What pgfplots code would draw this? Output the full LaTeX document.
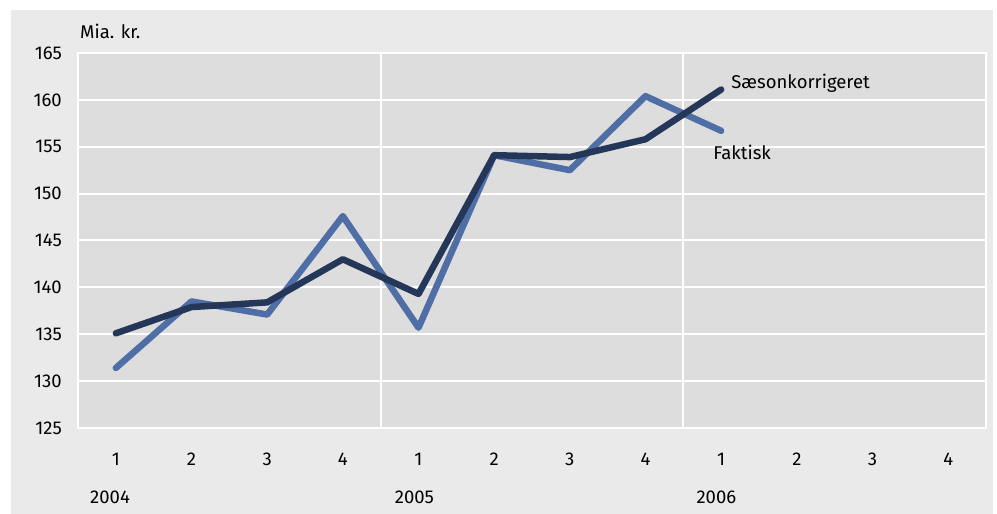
\documentclass[border=0pt]{standalone}
\usepackage{pgfplots}
\pgfplotsset{compat=1.18}
\usepackage{fontspec}
\setmainfont{Fira Sans}
\definecolor{outerbg}{HTML}{EAEAEA}
\definecolor{plotbg}{HTML}{DDDDDD}
\definecolor{faktisk}{HTML}{4F6EA6}
\definecolor{saeson}{HTML}{253759}
\begin{document}
\fontsize{18.5}{22}\selectfont
\begin{tikzpicture}[x=1pt,y=1pt]
\fill[white] (0,0) rectangle (997,514);
\fill[outerbg] (11,0) rectangle (993,504);
\begin{axis}[
  at={(78pt,86pt)}, anchor=south west,
  scale only axis, width=908pt, height=375pt,
  xmin=-0.5, xmax=11.5, ymin=125, ymax=165,
  xtick={0,...,11},
  xticklabels={1,2,3,4,1,2,3,4,1,2,3,4},
  ytick={125,130,...,165},
  axis background/.style={fill=plotbg},
  axis line style={white, line width=2pt},
  major tick length=0pt,
  ymajorgrids, grid style={white, line width=2pt},
  tick label style={font=\fontsize{18.5}{22}\selectfont, text=black},
  yticklabel style={inner sep=0pt, xshift=-16pt},
  xticklabel style={inner sep=0pt, yshift=-25pt},
  /pgf/number format/assume math mode=true,
  clip=false,
]
\draw[white, line width=2pt] (axis cs:3.5,125) -- (axis cs:3.5,165);
\draw[white, line width=2pt] (axis cs:7.5,125) -- (axis cs:7.5,165);
\addplot[faktisk, line width=6.5pt, line cap=round, line join=round] coordinates {
(0,131.4) (1,138.5) (2,137.1) (3,147.6) (4,135.7) (5,154.1) (6,152.5) (7,160.4) (8,156.7)};
\addplot[saeson, line width=6.5pt, line cap=round, line join=round] coordinates {
(0,135.1) (1,137.9) (2,138.4) (3,143.0) (4,139.3) (5,154.1) (6,153.9) (7,155.8) (8,161.1)};
\node[anchor=west, inner sep=0pt] at (axis cs:8,161.1) [xshift=10pt, yshift=6pt] {Sæsonkorrigeret};
\node[anchor=west, inner sep=0pt] at (axis cs:8,156.7) [xshift=-8pt, yshift=-22pt] {Faktisk};
\node[anchor=west, inner sep=0pt] at (rel axis cs:0,1) [xshift=2pt, yshift=22pt] {Mia. kr.};
\node[anchor=west, inner sep=0pt] at (axis cs:-0.5,125) [xshift=12pt, yshift=-69pt] {2004};
\node[anchor=west, inner sep=0pt] at (axis cs:3.5,125) [xshift=14pt, yshift=-69pt] {2005};
\node[anchor=west, inner sep=0pt] at (axis cs:7.5,125) [xshift=13pt, yshift=-69pt] {2006};
\end{axis}
\pgfresetboundingbox
\useasboundingbox (0,0) rectangle (997,514);
\end{tikzpicture}
\end{document}
